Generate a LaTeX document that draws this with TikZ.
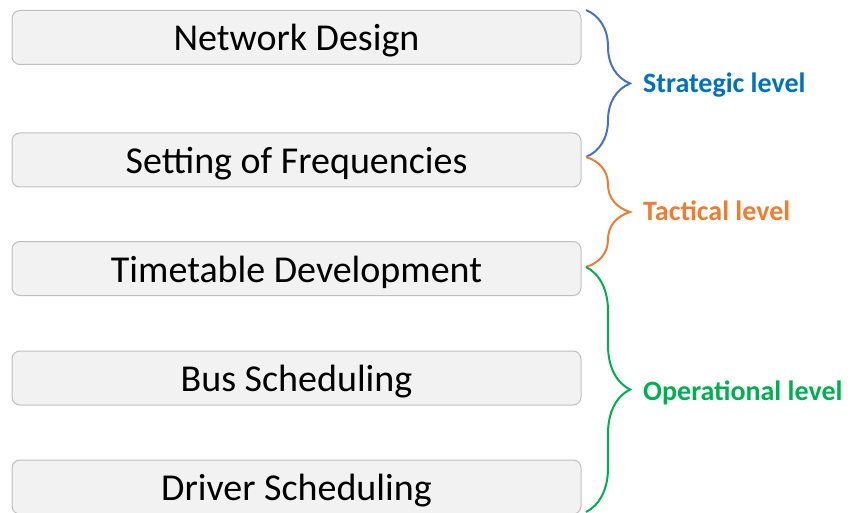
\documentclass[tikz,border=0pt]{standalone}
\usepackage{fontspec}
\setmainfont{Carlito}
\usetikzlibrary{decorations.pathreplacing}
\definecolor{stratblue}{HTML}{4472C4}
\definecolor{strattext}{HTML}{0070C0}
\definecolor{tactorange}{HTML}{ED7D31}
\definecolor{operagreen}{HTML}{00B050}
\tikzset{
  stage/.style={draw=gray!50, fill=gray!10, line width=1pt, rounded corners=8pt,
    minimum width=569pt, minimum height=54pt, inner sep=0pt, text height=27pt, text depth=0pt,
    font=\fontsize{38}{40}\selectfont},
  levelbrace/.style={decorate, decoration={brace, amplitude=44pt}, line width=2pt},
  levellabel/.style={anchor=west, inner sep=0pt, text height=18pt, text depth=0pt,
    font=\fontsize{28}{30}\selectfont\bfseries}
}
\begin{document}
\begin{tikzpicture}[x=1pt, y=-1pt]

    \useasboundingbox (0,0) rectangle (851,513);

    \node[stage] (network) at (296.5,37.5) {Network Design};
    \node[stage] (freq) at (296.5,160) {Setting of Frequencies};
    \node[stage] (timetable) at (296.5,268.5) {Timetable Development};
    \node[stage] (bus) at (296.5,378) {Bus Scheduling};
    \node[stage] (driver) at (296.5,487) {Driver Scheduling};

    \coordinate (b0) at (586,10);
    \coordinate (b1) at (586,157);
    \coordinate (b2) at (586,267);
    \coordinate (b3) at (586,512);

    \draw[levelbrace, stratblue] (b0) -- (b1);
    \draw[levelbrace, tactorange] (b1) -- (b2);
    \draw[levelbrace, operagreen] (b2) -- (b3);

    \node[levellabel, text=strattext] (strategic) at (643,83.5) {Strategic level};
    \node[levellabel, text=tactorange] (tactical) at (643,212) {Tactical level};
    \node[levellabel, text=operagreen] (operational) at (643,391) {Operational level};

  \end{tikzpicture}
\end{document}
